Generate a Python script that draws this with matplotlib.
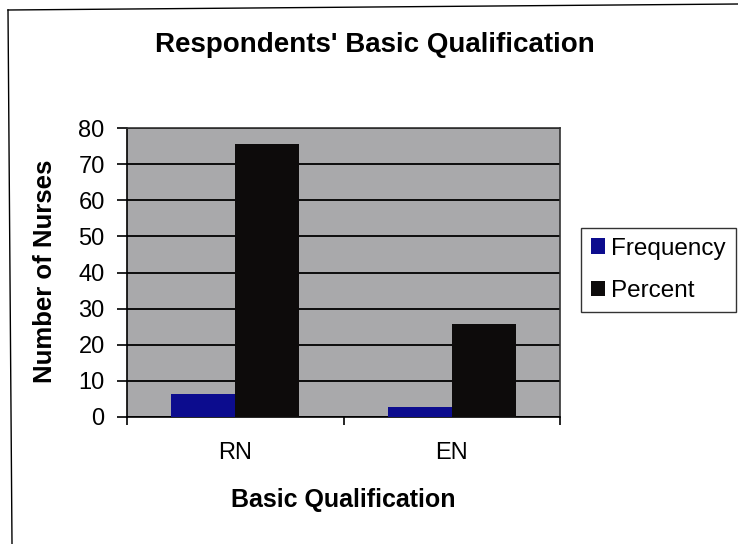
import matplotlib.pyplot as plt
import numpy as np
from matplotlib.lines import Line2D

plt.rcParams['font.family'] = ['Liberation Sans', 'DejaVu Sans']

categorias = ['RN', 'EN']
frecuencia = [6.5, 2.8]
porcentaje = [75.5, 25.8]
y_ticks = [0, 10, 20, 30, 40, 50, 60, 70, 80]

fig = plt.figure(figsize=(7.38, 5.44), dpi=100)
ax = fig.add_axes([0.172, 0.2335, 0.587, 0.531])
ax.set_facecolor('#a9a9ab')

x = np.arange(len(categorias))
w = 0.295
ax.bar(x - w / 2, frecuencia, w, color='#0c0c8e', label='Frequency', zorder=3)
ax.bar(x + w / 2, porcentaje, w, color='#0d0b0b', label='Percent', zorder=3)

ax.set_ylim(0, 80)
ax.set_xlim(-0.5, 1.5)
ax.set_yticks(y_ticks)
ax.yaxis.grid(True, color='black', linewidth=1.3, zorder=1)
ax.tick_params(axis='y', labelsize=17, length=7, width=1.2, pad=9, direction='out')

# ticks de x en los limites de categoria, etiquetas en el centro
ax.set_xticks([-0.5, 0.5, 1.5])
ax.set_xticklabels(['', '', ''])
ax.set_xticks(x, minor=True)
ax.set_xticklabels(categorias, minor=True)
ax.tick_params(axis='x', which='major', length=6, width=1.2)
ax.tick_params(axis='x', which='minor', length=0, labelsize=17, pad=18)

for s in ax.spines.values():
    s.set_color('#333333')
    s.set_linewidth(1.2)
ax.spines['left'].set_color('black')
ax.spines['bottom'].set_color('black')

ax.set_ylabel('Number of Nurses', fontsize=18.5, fontweight='bold', va='center')
ax.yaxis.set_label_coords(-0.188, 0.505)
ax.set_xlabel('Basic Qualification', fontsize=18, fontweight='bold', va='top')
ax.xaxis.set_label_coords(0.5, -0.245)
fig.text(0.508, 1 - 52 / 544, "Respondents' Basic Qualification", fontsize=20,
         fontweight='bold', ha='center', va='baseline')

leg = fig.legend(loc='upper left', bbox_to_anchor=(0.787, 0.581), fontsize=17.5,
                 frameon=True, fancybox=False, edgecolor='black',
                 handlelength=0.6, handleheight=0.6, handletextpad=0.25,
                 borderpad=0.4, labelspacing=0.85, borderaxespad=0)
leg.get_frame().set_linewidth(1.0)

# marco de la figura (solo arriba e izquierda)
fig.add_artist(Line2D([8 / 738, 1.0], [1 - 10 / 544, 1 - 4 / 544], transform=fig.transFigure,
                      color='black', linewidth=1.0))
fig.add_artist(Line2D([8 / 738, 12 / 738], [1 - 10 / 544, 0.0], transform=fig.transFigure,
                      color='black', linewidth=1.0))

fig.savefig('out.png', dpi=100)
